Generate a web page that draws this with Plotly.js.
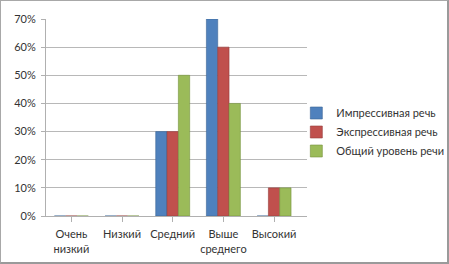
<!DOCTYPE html>
<html><head><meta charset="utf-8">
<script src="https://cdn.plot.ly/plotly-3.0.1.min.js"></script>
<style>
html,body{margin:0;padding:0;background:#fff;}
#wrap{position:relative;width:449px;height:264px;}
#chart{width:449px;height:264px;}
#frame{position:absolute;left:0;top:0;width:446px;height:261px;border-top:1px solid #a8a8a8;border-left:1px solid #a8a8a8;border-right:2px solid #9a9a9a;border-bottom:2px solid #9a9a9a;pointer-events:none;}
</style></head>
<body><div id="wrap"><div id="chart"></div><div id="frame"></div></div>
<script>
const categories = ["Очень<br>низкий", "Низкий", "Средний", "Выше<br>среднего", "Высокий"];
const seriesNames = ["Импрессивная речь", "Экспрессивная речь", "Общий уровень речи"];
const impressive = [0, 0, 0.30, 0.70, 0];
const expressive = [0, 0, 0.30, 0.60, 0.10];
const overall = [0, 0, 0.50, 0.40, 0.10];
const colors = ["#4f81bd", "#c0504d", "#9bbb59"];
const lineColors = ["#3a6496", "#963c3a", "#76923c"];
const yTicks = [0, 0.1, 0.2, 0.3, 0.4, 0.5, 0.6, 0.7];

const values = [impressive, expressive, overall];
const traces = values.map((v, i) => ({
  type: "bar",
  x: [0, 1, 2, 3, 4],
  y: v,
  name: seriesNames[i],
  marker: {color: colors[i], line: {color: lineColors[i], width: 0.6}},
  hoverinfo: "none"
}));

const font = {family: "Lato, 'Liberation Sans', sans-serif", size: 11, color: "#333"};
const layout = {
  width: 449, height: 264,
  margin: {l: 46, r: 142, t: 19, b: 48, pad: 0, autoexpand: false},
  paper_bgcolor: "#fff", plot_bgcolor: "#fff",
  font: font,
  barmode: "group", bargap: 0.33, bargroupgap: 0,
  showlegend: true,
  legend: {xref: "container", yref: "container", x: 0.66, xanchor: "left", y: 0.5, yanchor: "middle",
           font: {family: font.family, size: 11, color: "#333"}, tracegroupgap: 0, itemwidth: 30, bgcolor: "rgba(0,0,0,0)"},
  xaxis: {
    range: [-0.5, 4.65], tickmode: "array", tickvals: [0, 1, 2, 3, 4], ticktext: categories, tickangle: 0,
    automargin: false, ticklabelstandoff: 3,
    showgrid: false, zeroline: false, showline: true, linecolor: "#b0b0b0", linewidth: 1,
    ticks: "outside", tickson: "boundaries", ticklen: 5, tickcolor: "#b0b0b0",
    tickfont: {family: font.family, size: 11, color: "#333"}, fixedrange: true
  },
  yaxis: {
    range: [0, 0.7], tickmode: "array", tickvals: yTicks, tickformat: ".0%",
    automargin: false, ticklabelstandoff: 3,
    showgrid: true, gridcolor: "#b8b8b8", gridwidth: 1, zeroline: false,
    showline: true, linecolor: "#b0b0b0", linewidth: 1,
    ticks: "outside", ticklen: 4, tickcolor: "#b0b0b0",
    tickfont: {family: font.family, size: 11, color: "#333"}, fixedrange: true
  }
};
Plotly.newPlot("chart", traces, layout, {staticPlot: true, displayModeBar: false});
</script></body></html>
